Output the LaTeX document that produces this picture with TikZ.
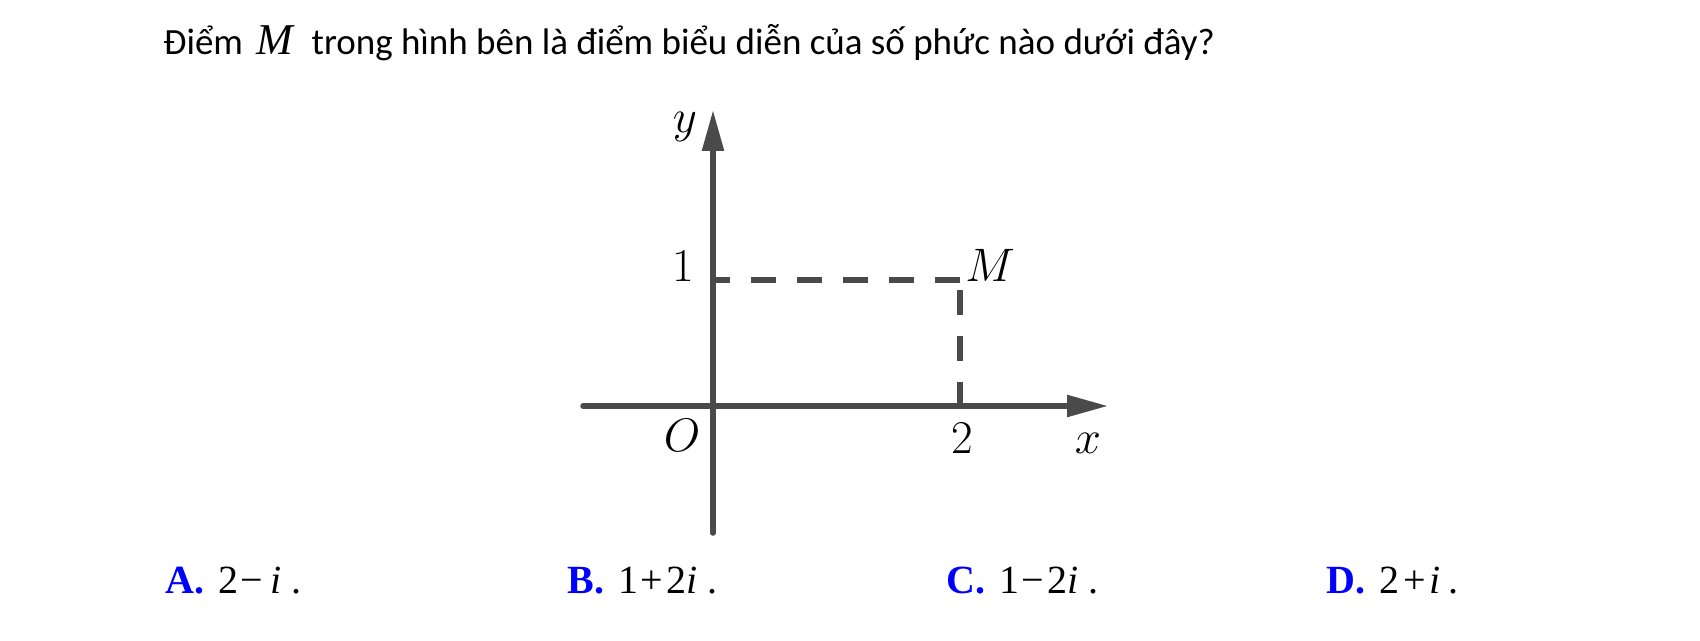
\RequirePackage{fix-cm}
\documentclass[tikz,border=0pt]{standalone}
\usepackage{fontspec}
\newfontfamily\titlefont{Carlito}
\newfontfamily\tnr{Liberation Serif}
\usetikzlibrary{arrows.meta}
\definecolor{axisgray}{HTML}{4A4A4A}
\definecolor{ansblue}{HTML}{0000FF}
\begin{document}
\begin{tikzpicture}[x=0.5pt,y=-0.5pt,
  axis/.style={draw=axisgray,line width=2.75pt,line cap=round},
  axisarrow/.style={axis,-{Triangle[length=20.5pt,width=10.5pt]}},
  guide/.style={draw=axisgray,line width=3pt,dash pattern=on 12.5pt off 10.5pt},
  lbl/.style={inner sep=0pt,anchor=base,font=\fontsize{23.5}{28}\selectfont},
  title/.style={inner sep=0pt,anchor=base west,font=\titlefont\fontsize{18.5}{22}\selectfont},
  ans/.style={inner sep=0pt,anchor=base west,font=\tnr\fontsize{20}{24}\selectfont}]
\useasboundingbox (0,0) rectangle (1700,641);
% title
\node[title] (q) at (163,55) {Điểm\hspace{7pt}{\tnr\itshape\fontsize{22}{22}\selectfont M}\hspace{9pt}trong hình bên là điểm biểu diễn của số phức nào dưới đây?};
% axes
\coordinate (ybot) at (713,533);
\coordinate (ytop) at (713,110);
\coordinate (xleft) at (583,406);
\coordinate (xright) at (1108,406);
\coordinate (Mpt) at (960,280);
\coordinate (Mv) at (960,287);
\coordinate (Y1) at (713,280);
\coordinate (X2) at (960,407);
\draw[axisarrow] (ybot) -- (ytop);
\draw[axisarrow] (xleft) -- (xright);
\draw[guide] (Mpt) -- (Y1);
\draw[guide] (X2) -- (Mv);
% labels
\node[lbl] (ly) at (685,133) {$y$};
\node[lbl] (l1) at (683,282) {$1$};
\node[lbl] (lM) at (990,282) {$M$};
\node[lbl] (lO) at (682,451) {$O$};
\node[lbl] (l2) at (962,453) {$2$};
\node[lbl] (lx) at (1088,453) {$x$};
% answers
\node[ans] (a) at (165,593) {{\color{ansblue}\bfseries A.}\hspace{7pt}2\hspace{1pt}−\hspace{4pt}\textit{i}\hspace{5pt}.};
\node[ans] (b) at (567,593) {{\color{ansblue}\bfseries B.}\hspace{7pt}1\hspace{1pt}+\hspace{2pt}2\textit{i}\hspace{5pt}.};
\node[ans] (c) at (946,593) {{\color{ansblue}\bfseries C.}\hspace{7pt}1\hspace{1pt}−\hspace{2pt}2\textit{i}\hspace{5pt}.};
\node[ans] (d) at (1326,593) {{\color{ansblue}\bfseries D.}\hspace{7pt}2\hspace{2pt}+\hspace{2pt}\textit{i}\hspace{4pt}.};
\end{tikzpicture}
\end{document}
